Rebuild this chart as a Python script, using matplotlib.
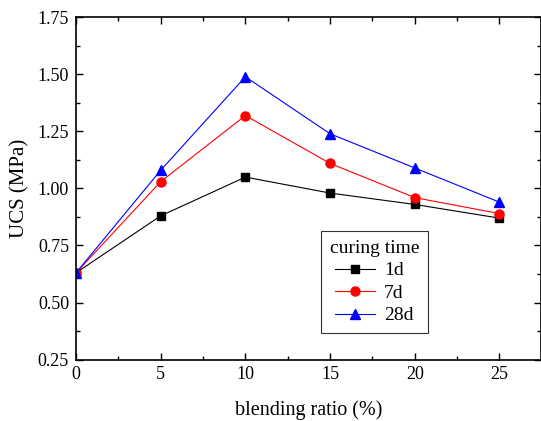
import matplotlib
matplotlib.use("Agg")
import matplotlib.pyplot as plt
from matplotlib.ticker import MultipleLocator

plt.rcParams['font.family'] = ['Liberation Serif', 'DejaVu Serif']

ratio = [0, 5, 10, 15, 20, 25]
ucs_1d = [0.63, 0.88, 1.05, 0.98, 0.93, 0.87]
ucs_7d = [0.63, 1.03, 1.32, 1.11, 0.96, 0.89]
ucs_28d = [0.63, 1.08, 1.49, 1.24, 1.09, 0.94]
labels = ['1d', '7d', '28d']

fig = plt.figure(figsize=(5.41, 4.21), dpi=100)
ax = fig.add_axes([76/541, 1-359.5/421, (541-76)/541, (359.5-17.5)/421])

ax.plot(ratio, ucs_1d, color='black', marker='s', markersize=6, linewidth=0.8, label=labels[0])
ax.plot(ratio, ucs_7d, color='red', marker='o', markersize=6.5, linewidth=0.8, label=labels[1])
ax.plot(ratio, ucs_28d, color='blue', marker='^', markersize=7.5, linewidth=0.8, label=labels[2])

ax.set_xlim(0, 27.45)
ax.set_ylim(0.25, 1.75)
ax.xaxis.set_major_locator(MultipleLocator(5))
ax.xaxis.set_minor_locator(MultipleLocator(2.5))
ax.yaxis.set_major_locator(MultipleLocator(0.25))
ax.yaxis.set_minor_locator(MultipleLocator(0.125))
ax.yaxis.set_major_formatter(matplotlib.ticker.FormatStrFormatter('%.2f'))
ax.tick_params(which='both', direction='in', top=True, right=True, labelsize=13)
ax.tick_params(which='major', length=5, width=1, pad=5)
ax.tick_params(which='minor', length=3, width=1)
for s in ax.spines.values():
    s.set_linewidth(1.2)

ax.set_xlabel('blending ratio (%)', fontsize=14.5, labelpad=12)
ax.set_ylabel('UCS (MPa)', fontsize=15, labelpad=6)

leg = ax.legend(title='curing time', loc='lower left', bbox_to_anchor=(0.527, 0.077),
                fontsize=14, title_fontsize=14, frameon=True, fancybox=False,
                edgecolor='black', handlelength=2.05, handletextpad=0.45,
                borderpad=0.45, labelspacing=0.25, borderaxespad=0)
leg.get_frame().set_linewidth(0.8)

fig.savefig('out.png', dpi=100)
